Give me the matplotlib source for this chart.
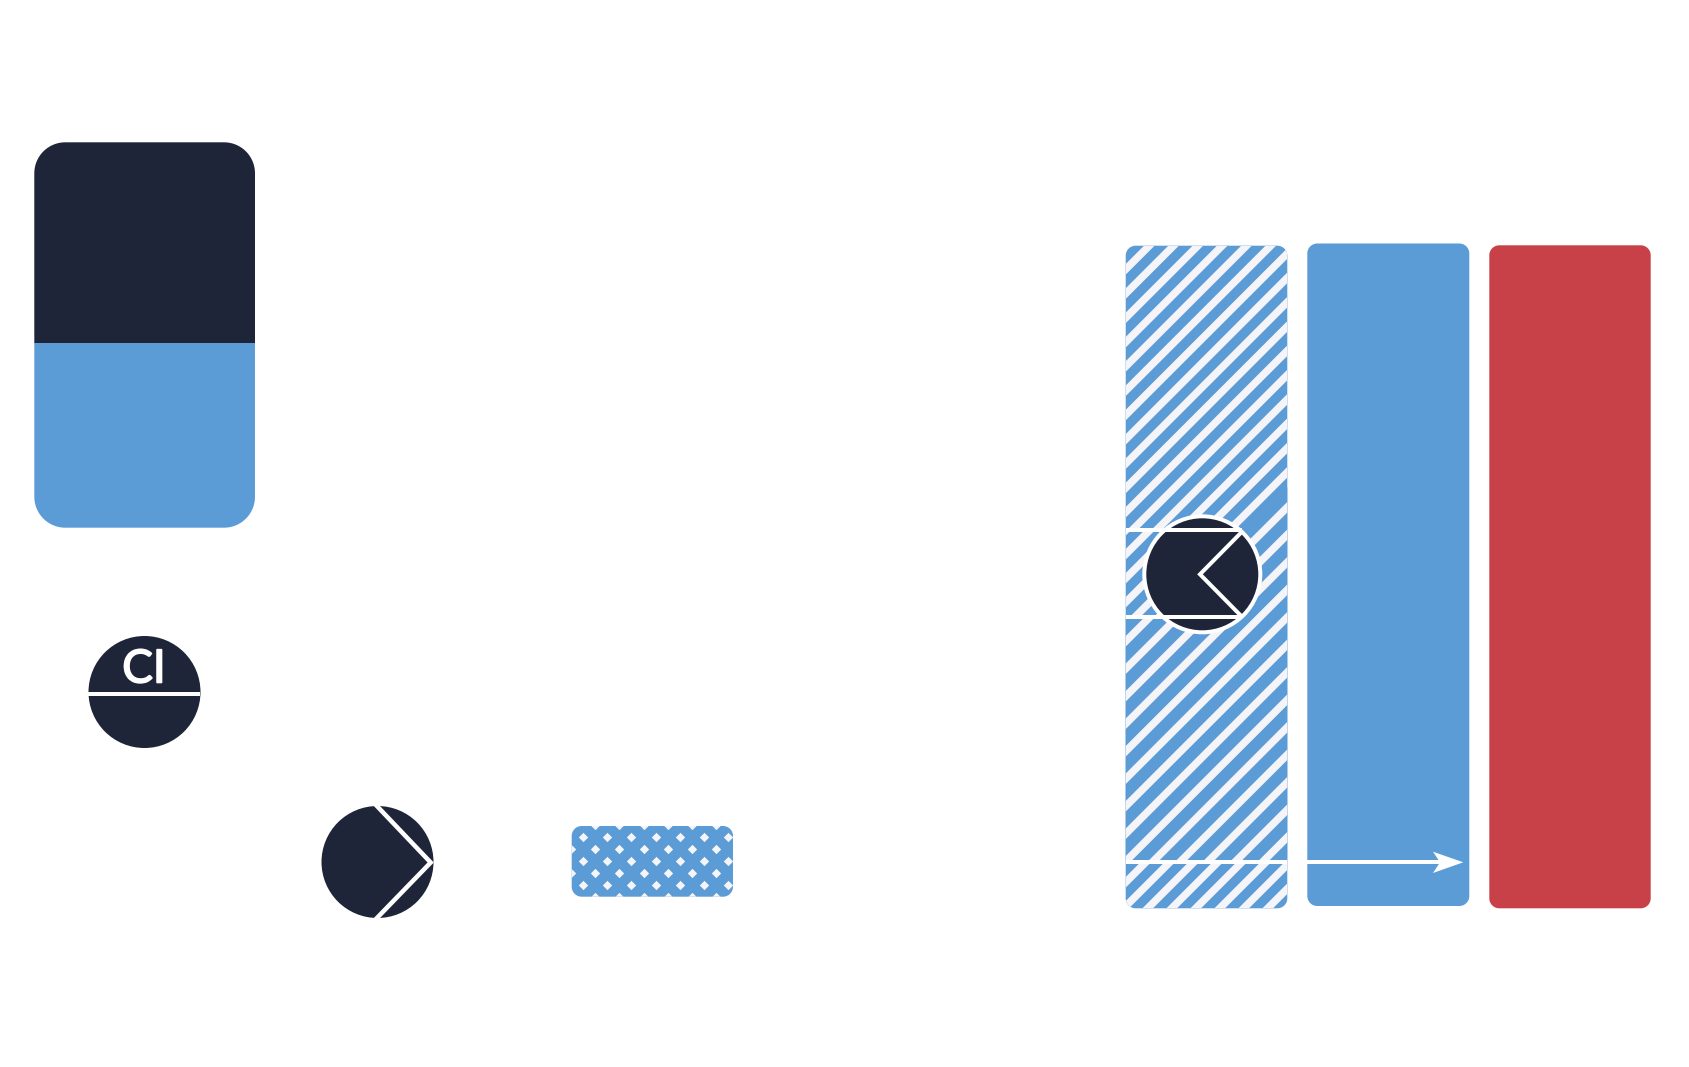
import numpy as np
import matplotlib
matplotlib.use("Agg")
import matplotlib.pyplot as plt
import matplotlib.patheffects as pe
from matplotlib.patches import Circle, Polygon
from matplotlib.transforms import Bbox, TransformedBbox

plt.rcParams['font.family'] = ['Lato', 'DejaVu Sans']

# colours
navy = '#1f2539'
blue = '#5b9bd6'
red = '#c94148'
pale = '#f5f4f8'
white = '#ffffff'

# left stacked block
stack_x = [34.3, 255.0]
stack_y = [142.3, 342.7, 527.7]
stack_colors = [navy, blue]

# the three tall bars
hatch_bar_x = [1125.7, 1287.3]
hatch_bar_y = [245.7, 908.3]
blue_bar_x = [1307.3, 1469.3]
blue_bar_y = [243.5, 906.0]
red_bar_x = [1489.3, 1650.7]
red_bar_y = [245.3, 908.3]

# small dotted bar
dot_bar_x = [571.7, 733.0]
dot_bar_y = [826.0, 896.7]

# stripe sections of the hatched bar
top_box = [245.7, 528.0]
top_stripes = [1395, 24.3]
left_box = [532.0, 614.7]
left_stripes = [1680, 24.0]
low_outline = [[1125.7, 618.7], [1241.7, 618.7], [1241.7, 533.0], [1287.3, 487.4], [1287.3, 860.3], [1125.7, 860.3]]
low_stripes = [1767, 27.5]
foot_box = [864.3, 908.3]
foot_stripes = [2008, 24.0]

# markers
ci_circle = [144.5, 692.0, 56.0]
ci_line_y = 693.5
chev_circle = [377.5, 862.0, 56.0]
chev_pts = [[375.0, 804.0], [430.7, 862.5], [375.0, 920.0]]
big_circle = [1202.3, 574.3, 56.0]
big_ring = 60.0
big_chev = [[1241.7, 532.0], [1200.0, 574.3], [1241.7, 616.5]]
rule_y = [530.0, 616.7]
arrow_y = 862.3
arrow_head = [[1433.0, 851.7], [1463.3, 862.3], [1433.0, 873.0], [1440.0, 862.3]]

fig = plt.figure(figsize=(16.89, 10.67), dpi=100, facecolor='white')
ax = fig.add_axes([0, 0, 1, 1])
ax.set_xlim(0, 1689)
ax.set_ylim(1067, 0)
ax.axis('off')


def rounded(xs, ys, r, color, z=2):
    # true circular corners, FancyBboxPatch gives squarer ones
    t = np.linspace(0, np.pi / 2, 24)
    c, s = np.cos(t), np.sin(t)
    px = np.r_[xs[0] + r - r * c, xs[1] - r + r * s, xs[1] - r + r * c, xs[0] + r - r * s]
    py = np.r_[ys[0] + r - r * s, ys[0] + r - r * c, ys[1] - r + r * s, ys[1] - r + r * c]
    p = Polygon(np.c_[px, py], closed=True, fc=color, ec='none', lw=0, zorder=z)
    ax.add_patch(p)
    return p


def stripes(first, gap, clip_patch, box=None, z=3):
    for s in first + gap * np.arange(-40, 40):
        line, = ax.plot([hatch_bar_x[0] - 5, hatch_bar_x[1] + 5], [s - hatch_bar_x[0] + 5, s - hatch_bar_x[1] - 5],
                        color=pale, lw=7.5 * 0.72, solid_capstyle='butt', zorder=z)
        line.set_clip_path(clip_patch)
        if box is not None:
            line.set_clip_box(TransformedBbox(Bbox([[hatch_bar_x[0], box[0]], [box[2], box[1]]]), ax.transData))


# left block, two colours inside one rounded outline
clip = rounded(stack_x, [stack_y[0], stack_y[2]], 31, 'none', z=1)
for i in range(2):
    b = ax.bar(stack_x[0], stack_y[i + 1] - stack_y[i], stack_x[1] - stack_x[0], bottom=stack_y[i],
               align='edge', color=stack_colors[i], zorder=2)
    b[0].set_clip_path(clip)

# plain bars
rounded(blue_bar_x, blue_bar_y, 10, blue)
rounded(red_bar_x, red_bar_y, 10, red)

# hatched bar, agg caches the clip mask per path so every section needs its own outline
rounded(hatch_bar_x, hatch_bar_y, 10, blue)
stripes(top_stripes[0], top_stripes[1], rounded(hatch_bar_x, hatch_bar_y, 10, 'none', z=1), top_box + [hatch_bar_x[1]])
stripes(left_stripes[0], left_stripes[1], rounded(hatch_bar_x, hatch_bar_y, 10, 'none', z=1), left_box + [1210.0])
stripes(foot_stripes[0], foot_stripes[1], rounded(hatch_bar_x, hatch_bar_y, 10, 'none', z=1), foot_box + [hatch_bar_x[1]])
low_patch = Polygon(low_outline, closed=True, fc=blue, ec='none', lw=0, zorder=3.2)
ax.add_patch(low_patch)
stripes(low_stripes[0], low_stripes[1], low_patch, z=3.4)

# circle on the hatched bar
ax.add_patch(Circle(big_circle[:2], big_ring, fc=white, ec='none', zorder=4))
ax.add_patch(Circle(big_circle[:2], big_circle[2], fc=navy, ec='none', zorder=5))
ax.plot([p[0] for p in big_chev], [p[1] for p in big_chev], color=white, lw=4 * 0.72,
        solid_joinstyle='miter', solid_capstyle='butt', zorder=6)

# white rules stop at the chevron
for y in rule_y:
    ax.plot([hatch_bar_x[0], big_chev[0][0]], [y, y], color=white, lw=4 * 0.72, solid_capstyle='butt', zorder=6)

# arrow over hatched and blue bars
ax.plot(hatch_bar_x, [arrow_y, arrow_y], color=white, lw=4 * 0.72, solid_capstyle='butt', zorder=6)
ax.plot([blue_bar_x[0], arrow_head[3][0]], [arrow_y, arrow_y], color=white, lw=4 * 0.72, solid_capstyle='butt', zorder=6)
ax.add_patch(Polygon(arrow_head, closed=True, fc=white, ec='none', zorder=6))

# dotted bar
dot_clip = rounded(dot_bar_x, dot_bar_y, 10, blue)
for k, y in enumerate(np.arange(825.3, 900, 12.0)):
    start = 570.7 if k % 2 == 0 else 582.7
    xs = np.arange(start, 745, 24.3)
    sc = ax.scatter(xs, [y] * len(xs), marker='D', s=23, c=pale, linewidths=0, zorder=3)
    sc.set_clip_path(dot_clip)

# CI circle
ax.add_patch(Circle(ci_circle[:2], ci_circle[2], fc=navy, ec='none', zorder=2))
ax.plot([ci_circle[0] - ci_circle[2], ci_circle[0] + ci_circle[2]], [ci_line_y, ci_line_y], color=white,
        lw=4 * 0.72, solid_capstyle='butt', zorder=3)
ax.text(144, 669.5, 'CI', color=white, fontsize=33, ha='center', va='center', zorder=3,
        path_effects=[pe.withStroke(linewidth=1.2, foreground=white)])

# chevron circle
ax.add_patch(Circle(chev_circle[:2], chev_circle[2], fc=navy, ec='none', zorder=2))
ax.plot([p[0] for p in chev_pts], [p[1] for p in chev_pts], color=white, lw=4.5 * 0.72,
        solid_joinstyle='miter', solid_capstyle='butt', zorder=3)

fig.savefig('out.png', dpi=100, facecolor='white')
